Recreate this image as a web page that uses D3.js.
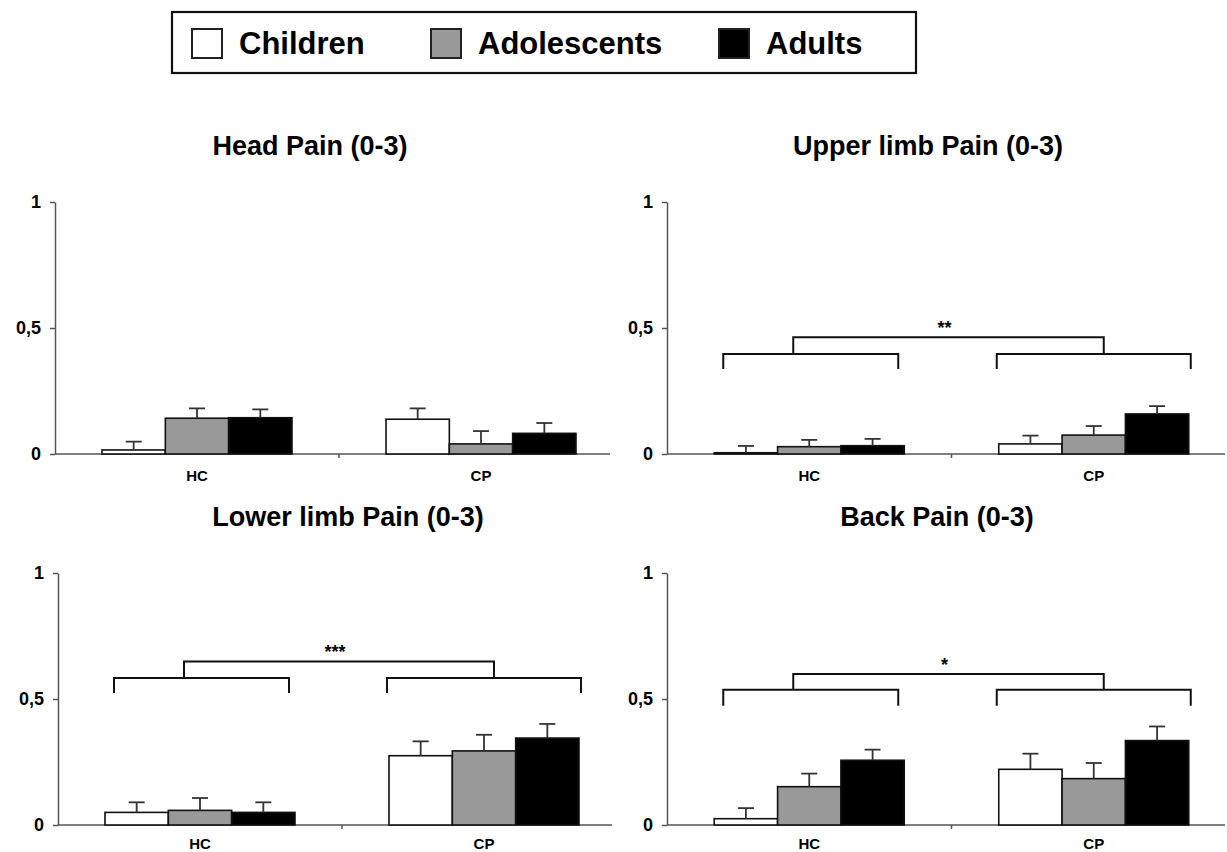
<!DOCTYPE html>
<html>
<head>
<meta charset="utf-8">
<script src="https://cdn.jsdelivr.net/npm/d3@7"></script>
<style>
body { margin: 0; background: #fff; }
text { font-family: "Liberation Sans", Arial, sans-serif; font-weight: bold; }
</style>
</head>
<body>
<div id="chart"></div>
<script>
var groups = ["HC", "CP"];
var series = ["Children", "Adolescents", "Adults"];
var colors = ["#ffffff", "#999999", "#000000"];
var yTicks = [0, 0.5, 1];
var yTickLabels = ["0", "0,5", "1"];

// means (rows = HC, CP; cols = children, adolescents, adults)
var headPain = [[0.016, 0.142, 0.144], [0.138, 0.040, 0.082]];
var headPainErr = [[0.033, 0.039, 0.033], [0.043, 0.051, 0.041]];
var upperPain = [[0.005, 0.029, 0.033], [0.040, 0.075, 0.159]];
var upperPainErr = [[0.027, 0.027, 0.027], [0.033, 0.036, 0.031]];
var lowerPain = [[0.050, 0.058, 0.050], [0.275, 0.294, 0.345]];
var lowerPainErr = [[0.040, 0.049, 0.040], [0.057, 0.064, 0.056]];
var backPain = [[0.025, 0.152, 0.257], [0.221, 0.184, 0.335]];
var backPainErr = [[0.042, 0.052, 0.042], [0.062, 0.062, 0.056]];

// significance brackets: [top bar, lower bars, leg ends]
var upperSig = {label: "**", levels: [0.463, 0.397, 0.337]};
var lowerSig = {label: "***", levels: [0.649, 0.583, 0.524]};
var backSig = {label: "*", levels: [0.599, 0.537, 0.473]};

var panels = [
	{title: "Head Pain (0-3)", mean: headPain, err: headPainErr, sig: null,
		ax: 55, y0: 454, range: [55, 623], end: 610, tx: 310, pad: 16},
	{title: "Upper limb Pain (0-3)", mean: upperPain, err: upperPainErr, sig: upperSig,
		ax: 667, y0: 454, range: [667, 1236], end: 1225, tx: 928, pad: 16},
	{title: "Lower limb Pain (0-3)", mean: lowerPain, err: lowerPainErr, sig: lowerSig,
		ax: 58, y0: 825, range: [58, 626], end: 612, tx: 348, pad: 13},
	{title: "Back Pain (0-3)", mean: backPain, err: backPainErr, sig: backSig,
		ax: 667, y0: 825, range: [667, 1236], end: 1225, tx: 937, pad: 13}
];

var svg = d3.select("#chart")
	.append("svg")
	.attr("width", 1227)
	.attr("height", 852)
	;

// legend
var legend = svg.append("g");
legend.append("rect")
	.attr("x", 172).attr("y", 12)
	.attr("width", 744).attr("height", 61)
	.attr("fill", "none")
	.attr("stroke", "#111")
	.attr("stroke-width", 2.2)
	;
var legendX = [192, 431, 719];
series.forEach(function(s, i) {
	legend.append("rect")
		.attr("x", legendX[i]).attr("y", 29)
		.attr("width", 30).attr("height", 29)
		.attr("fill", colors[i])
		.attr("stroke", "#222")
		.attr("stroke-width", 2)
		;
	legend.append("text")
		.attr("x", legendX[i] + 47).attr("y", 54)
		.attr("font-size", 31)
		.text(s)
		;
});

panels.forEach(function(p) {
	var g = svg.append("g");
	var y = d3.scaleLinear().domain([0, 1]).range([p.y0, p.y0 - 252]);
	var x0 = d3.scaleBand().domain(groups).range(p.range);
	var x1 = d3.scaleBand().domain(series).range([-95, 95]);
	var mid = p.range[0] + x0.step();

	g.append("text")
		.attr("x", p.tx).attr("y", p.y0 - 299)
		.attr("text-anchor", "middle")
		.attr("font-size", 27)
		.text(p.title)
		;

	// y axis
	var yAxis = g.append("g")
		.attr("transform", "translate(" + p.ax + ",0)")
		.call(d3.axisLeft(y)
			.tickValues(yTicks)
			.tickFormat(function(d, i) { return yTickLabels[i]; })
			.tickSize(5)
			.tickSizeOuter(0)
			.tickPadding(9))
		;
	yAxis.selectAll("path, line").attr("stroke", "#555").attr("stroke-width", 1.5);
	yAxis.selectAll("text").attr("font-size", 18).attr("fill", "#000")
		.style("font-family", "'Liberation Sans', Arial, sans-serif").style("font-weight", "bold");

	// x axis
	g.append("line")
		.attr("x1", p.ax).attr("x2", p.end)
		.attr("y1", p.y0).attr("y2", p.y0)
		.attr("stroke", "#555").attr("stroke-width", 1.5)
		;
	g.append("line")
		.attr("x1", mid).attr("x2", mid)
		.attr("y1", p.y0).attr("y2", p.y0 + 4)
		.attr("stroke", "#555").attr("stroke-width", 1.5)
		;
	var xAxis = g.append("g")
		.attr("transform", "translate(0," + p.y0 + ")")
		.call(d3.axisBottom(x0).tickSize(0).tickPadding(p.pad))
		;
	xAxis.select(".domain").remove();
	xAxis.selectAll("text").attr("font-size", 15).attr("fill", "#000")
		.style("font-family", "'Liberation Sans', Arial, sans-serif").style("font-weight", "bold");

	// bars
	var rows = [];
	groups.forEach(function(grp, gi) {
		series.forEach(function(s, si) {
			rows.push({grp: grp, s: s, si: si, v: p.mean[gi][si], e: p.err[gi][si]});
		});
	});
	var cx = function(d) {
		return x0(d.grp) + x0.bandwidth() / 2 + x1(d.s);
	};
	g.selectAll("rect.bar")
		.data(rows)
		.enter().append("rect")
		.attr("class", "bar")
		.attr("x", cx)
		.attr("width", x1.bandwidth())
		.attr("y", function(d) { return y(d.v); })
		.attr("height", function(d) { return p.y0 - y(d.v); })
		.attr("fill", function(d) { return colors[d.si]; })
		.attr("stroke", "#111")
		.attr("stroke-width", 1.6)
		;
	var eb = g.selectAll("g.err")
		.data(rows)
		.enter().append("g")
		.attr("class", "err")
		.attr("transform", function(d) {
			return "translate(" + (cx(d) + x1.bandwidth() / 2) + ",0)";
		})
		;
	eb.append("line")
		.attr("y1", function(d) { return y(d.v); })
		.attr("y2", function(d) { return y(d.v + d.e); })
		.attr("stroke", "#333").attr("stroke-width", 1.8)
		;
	eb.append("line")
		.attr("x1", -8).attr("x2", 8)
		.attr("y1", function(d) { return y(d.v + d.e); })
		.attr("y2", function(d) { return y(d.v + d.e); })
		.attr("stroke", "#333").attr("stroke-width", 1.8)
		;

	// significance bracket
	if (p.sig) {
		var lv = p.sig.levels;
		var hc = x0("HC") + x0.bandwidth() / 2;
		var cp = x0("CP") + x0.bandwidth() / 2;
		var lowers = [[hc - 86, hc + 89], [cp - 97, cp + 97]];
		lowers.forEach(function(b) {
			g.append("path")
				.attr("d", "M" + b[0] + "," + y(lv[2]) + "V" + y(lv[1]) + "H" + b[1] + "V" + y(lv[2]))
				.attr("fill", "none").attr("stroke", "#111").attr("stroke-width", 2)
				;
		});
		var t0 = hc - 16, t1 = cp + 10;
		g.append("path")
			.attr("d", "M" + t0 + "," + y(lv[1]) + "V" + y(lv[0]) + "H" + t1 + "V" + y(lv[1]))
			.attr("fill", "none").attr("stroke", "#111").attr("stroke-width", 2)
			;
		g.append("text")
			.attr("x", (t0 + t1) / 2 - 4).attr("y", y(lv[0]) - 3)
			.attr("text-anchor", "middle")
			.attr("font-size", 18)
			.text(p.sig.label)
			;
	}
});
</script>
</body>
</html>
